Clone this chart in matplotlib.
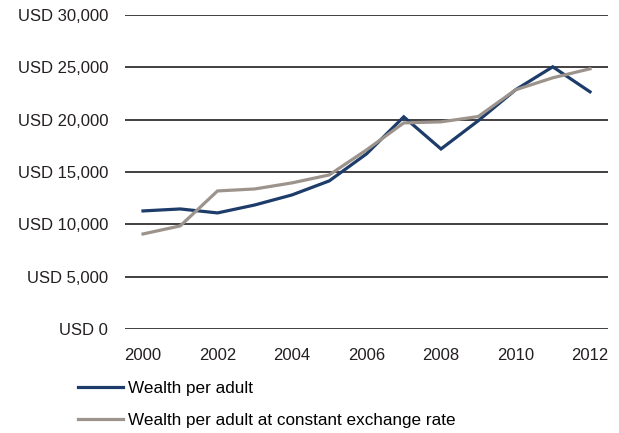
import matplotlib.pyplot as plt
import numpy as np

years = np.arange(2000, 2013)
wealth_per_adult = [11280, 11470, 11090, 11850, 12810, 14150, 16730,
                    20270, 17200, 19900, 22850, 25050, 22660]
wealth_constant_fx = [9080, 9850, 13190, 13380, 13960, 14720, 17110,
                      19690, 19790, 20300, 22850, 24000, 24860]
y_ticks = [0, 5000, 10000, 15000, 20000, 25000, 30000]
x_ticks = [2000, 2002, 2004, 2006, 2008, 2010, 2012]

plt.rcParams['font.family'] = ['Liberation Sans', 'DejaVu Sans']

W, H = 619, 433
fig = plt.figure(figsize=(W / 100, H / 100), dpi=100)
ax = fig.add_axes([125 / W, 1 - 329 / H, (608 - 125) / W, (329 - 15) / H])

# horizontal gridlines drawn by hand so they sit under the series
for y in y_ticks:
    ax.axhline(y, color='#231f20', lw=1.2, zorder=1)

l1, = ax.plot(years, wealth_per_adult, color='#1d3c6a', lw=2.3,
              solid_joinstyle='miter', zorder=3)
l2, = ax.plot(years, wealth_constant_fx, color='#9c948c', lw=2.3,
              solid_joinstyle='miter', zorder=4)

ax.set_xlim(1999.517, 2012.483)
ax.set_ylim(0, 30000)
ax.set_yticks(y_ticks)
ax.set_yticklabels([f"USD {v:,}" for v in y_ticks])
ax.set_xticks(x_ticks)
ax.set_xticklabels([str(x) for x in x_ticks])
ax.tick_params(axis='both', length=0, labelsize=12, colors='#231f20')
ax.tick_params(axis='y', pad=12)
ax.tick_params(axis='x', pad=14)
for s in ax.spines.values():
    s.set_visible(False)

fig.legend([l1, l2], ["Wealth per adult", "Wealth per adult at constant exchange rate"],
           loc='upper left', bbox_to_anchor=(78 / W, 1 - 381 / H),
           frameon=False, fontsize=12.3, handlelength=2.65, handletextpad=0.3,
           labelspacing=1.0, borderaxespad=0, borderpad=0)

fig.savefig("out.png", dpi=100)
